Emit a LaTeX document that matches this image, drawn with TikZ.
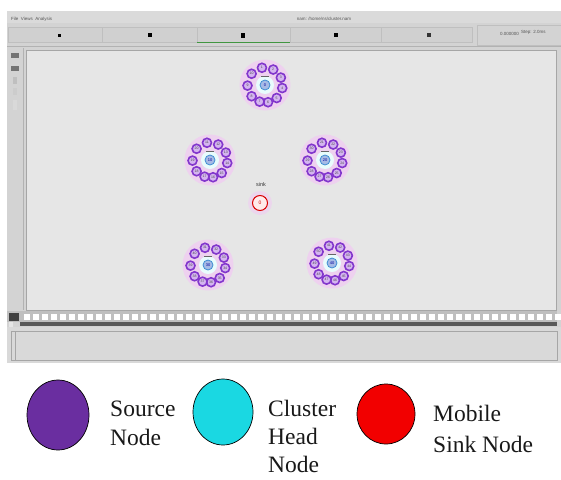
\documentclass[tikz,border=0pt]{standalone}
\usepackage{fontspec}
\setmainfont{Liberation Serif}
\setsansfont{Liberation Sans}
\usetikzlibrary{shapes.geometric}
\definecolor{winbg}{HTML}{D3D3D3}
\definecolor{menubg}{HTML}{DADADA}
\definecolor{btnbg}{HTML}{D0D0D0}
\definecolor{canvasbg}{HTML}{E6E6E6}
\definecolor{uigray}{HTML}{555555}
\definecolor{srcpurple}{HTML}{6A2EA0}
\definecolor{chcyan}{HTML}{1AD8E2}
\definecolor{sinkred}{HTML}{F20000}
\definecolor{ringpurple}{HTML}{8236CC}
\definecolor{ringfill}{HTML}{D4B4F0}
\definecolor{glowpink}{HTML}{F0CCF2}
\tikzset{
  uitext/.style={font=\sffamily\fontsize{4.5}{5}\selectfont, text=uigray, inner sep=0pt},
  btn/.style={draw=black!25, fill=btnbg, line width=0.5pt},
  srcnode/.style={circle, draw=ringpurple, line width=1.6pt, fill=ringfill, minimum size=9pt, inner sep=0pt, font=\sffamily\fontsize{3.5}{4}\selectfont, text=black!70},
  chnode/.style={circle, draw=cyan!60!blue!80, line width=0.8pt, fill=cyan!45!blue!35, minimum size=10pt, inner sep=0pt, font=\sffamily\fontsize{4}{4}\selectfont, text=blue!60!black},
  sinknode/.style={circle, draw=red!85!black, line width=1pt, fill=red!8, minimum size=15pt, inner sep=0pt, font=\sffamily\fontsize{5}{5}\selectfont, text=red!80!black},
  legell/.style={ellipse, draw=black, line width=0.7pt, inner sep=0pt},
  legtext/.style={font=\fontsize{23.5}{29}\selectfont, text=black!90, align=left, inner sep=0pt, anchor=base west},
}
\newcommand\clusterat[4]{%
  \fill[glowpink, opacity=0.8] (#2,#3) circle (25.5);
  \fill[canvasbg!60!cyan!20] (#2,#3) circle (9);
  \node[chnode] (#1) at (#2,#3) {\pgfmathtruncatemacro\chl{#4-1}\chl};
  \fill[black!60] (#2-4,#3-9) rectangle (#2+4,#3-8);
  \foreach \k/\a in {0/-100,1/-62,2/-25,3/10,4/48,5/80,6/108,7/140,8/178,9/-140}{
    \pgfmathtruncatemacro\lab{#4+\k}
    \node[srcnode] (#1n\k) at ([shift={(\a:17.5)}]#2,#3) {\lab};
  }%
}
\begin{document}
\begin{tikzpicture}[x=1pt,y=-1pt]
\useasboundingbox (0,0) rectangle (561,479);
\fill[white] (0,0) rectangle (561,479);
% ---------- NAM window ----------
\fill[winbg] (7,11) rectangle (561,363);
\fill[menubg] (7,11) rectangle (561,23);
\node[uitext, anchor=west] (menu) at (11,19) {File\ \ Views\ \ Analysis};
\node[uitext] (title) at (324,19) {nam: /home/ns/cluster.nam};
% toolbar buttons
\foreach \xa/\xb in {8/102,102/197,197/290,290/381,381/472}{
  \draw[btn] (\xa,27) rectangle (\xb,42);
}
\node[fill=black, inner sep=0pt, minimum width=3pt, minimum height=3pt] (i1) at (59,35) {};
\node[fill=black, inner sep=0pt, minimum width=3.5pt, minimum height=3.5pt] (i2) at (150,35) {};
\node[fill=black, inner sep=0pt, minimum width=3.5pt, minimum height=5pt] (i3) at (243,35) {};
\node[fill=black, inner sep=0pt, minimum width=3.5pt, minimum height=3.5pt] (i4) at (336,35) {};
\node[fill=black!80, inner sep=0pt, minimum width=4pt, minimum height=3.5pt] (i5) at (429,35) {};
\draw[green!45!black!75, line width=1.6pt] (197,42.5) -- (290,42.5);
\draw[black!30, line width=0.5pt] (7,46.5) -- (561,46.5);
\draw[btn, fill=winbg] (477,25) rectangle (561,45);
\node[uitext, anchor=east] (timebox) at (519,34) {0.000000};
\node[uitext, anchor=west] (stepbox) at (521,32) {Step: 2.0ms};
% left strip
\fill[black!55] (11,53) rectangle (19,58);
\fill[black!55] (11,66) rectangle (19,71);
\fill[black!25] (13,77) rectangle (17,84);
\fill[black!20] (13,88) rectangle (17,95);
\fill[black!15] (13,100) rectangle (17,110);
\draw[black!30] (23,48) -- (23,310);
% canvas
\draw[fill=canvasbg, draw=black!35, line width=0.6pt] (26,50) rectangle (556,310);
% timeline
\fill[black!25] (7,311) rectangle (557,322);
\foreach \i in {0,...,59}{
  \fill[white] (24+\i*9,313.5) rectangle (30+\i*9,319.5);
}
\fill[black!75] (9,313) rectangle (19,321);
\fill[black!65] (20,322) rectangle (557,326);
\fill[white!90!black] (9,322) rectangle (13,328);
% bottom panel
\fill[black!15] (7,327) rectangle (561,363);
\draw[black!35, line width=0.5pt] (11,331) rectangle (557,360);
\draw[black!35, line width=0.5pt] (15,331) -- (15,360);
% ---------- network ----------
\clusterat{ca}{265}{85}{1}
\clusterat{cb}{210}{160}{11}
\clusterat{cc}{325}{160}{21}
\clusterat{cd}{208}{265}{31}
\clusterat{ce}{332}{263}{41}
\fill[glowpink, opacity=0.6] (260,203) circle (12);
\node[sinknode] (sink) at (260,203) {0};
\node[font=\sffamily\fontsize{5.5}{6}\selectfont, text=black!80, inner sep=0pt] (sinklab) at (261,185) {sink};
% ---------- legend ----------
\node[legell, fill=srcpurple, minimum width=62pt, minimum height=70pt] (lsrc) at (58,415) {};
\node[legtext] (tsrc) at (110,445) {Source\\Node};
\node[legell, fill=chcyan, minimum width=60pt, minimum height=66pt] (lch) at (223,412) {};
\node[legtext, font=\fontsize{23.5}{28}\selectfont] (tch) at (268,472) {Cluster\\Head\\Node};
\node[legell, fill=sinkred, minimum width=58pt, minimum height=60pt] (lsink) at (386,414) {};
\node[legtext, font=\fontsize{23.5}{31}\selectfont] (tsink) at (433,452) {Mobile\\Sink Node};
\end{tikzpicture}
\end{document}
